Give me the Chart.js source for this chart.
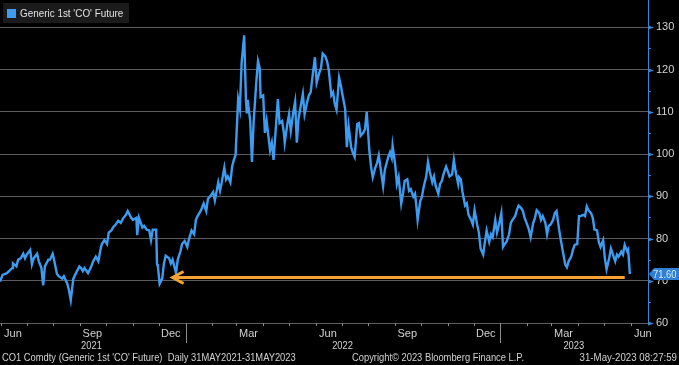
<!DOCTYPE html>
<html>
<head>
<meta charset="utf-8">
<script src="https://cdn.jsdelivr.net/npm/chart.js@4.4.1/dist/chart.umd.min.js"></script>
<style>
  html, body { margin: 0; padding: 0; background: #000; }
  #wrap { width: 679px; height: 365px; }
</style>
</head>
<body>
<div id="wrap"><canvas id="brent" width="679" height="365"></canvas></div>
<script>
// days since 31-May-2021
const days = [0,3,8,14,15,19,21,24,27,29,31,35,37,39,43,45,48,50,52,56,58,61,63,66,68,72,74,78,80,82,85,88,92,94,96,98,102,105,108,111,114,116,118,121,124,126,129,131,134,137,140,143,146,148,
  152,154,158,159,161,165,167,170,173,175,177,181,182,183,185,188,190,192,196,198,200,204,206,209,211,214,217,219,222,225,227,229,233,236,239,241,244,247,249,253,255,257,260,262,264,267,269,271,273,276,278,280,283,285,286,287,290,292,294,297,
  299,301,302,305,307,309,311,313,315,317,320,322,324,327,329,330,333,335,337,340,342,344,346,349,351,353,356,358,360,363,365,367,370,372,374,377,379,381,384,386,388,390,393,395,397,400,402,404,407,409,411,414,416,418,421,423,425,428,430,432,435,437,439,441,444,
  446,450,452,454,455,458,460,462,465,467,469,472,474,476,479,481,483,484,487,489,491,494,496,498,501,503,505,508,510,512,514,517,519,521,524,526,528,531,532,534,536,539,541,543,546,548,550,553,555,557,560,562,564,567,569,571,574,576,578,581,583,585,587,590,592,594,
  597,599,601,604,606,608,611,613,615,618,620,622,625,627,629,632,634,636,638,641,643,645,648,650,652,655,657,659,662,664,666,669,671,673,676,678,680,682,685,687,689,692,694,696,699,701,703,706,708,710,713,715,717,720,722,724,727,728,730];

const prices = [69.8,71.4,71.8,73.0,74.1,73.4,75.0,75.3,76.4,75.3,76.2,77.3,73.9,75.3,76.4,74.6,73.0,68.9,73.4,75.0,75.0,76.4,74.6,71.6,71.1,70.5,71.1,69.3,67.7,65.4,70.5,71.8,73.4,73.0,72.3,73.0,71.8,73.0,74.6,75.7,74.6,76.9,78.7,79.6,78.7,81.4,81.9,82.6,83.3,84.2,83.7,84.9,85.6,86.5,
  84.9,84.4,84.9,80.8,84.9,82.6,83.0,82.1,81.9,79.6,82.1,82.1,73.9,73.4,69.3,70.5,74.1,75.9,75.3,74.1,75.0,71.8,75.0,76.9,78.7,79.4,78.0,79.8,81.9,81.0,84.4,85.3,86.7,88.3,86.5,89.4,90.1,91.0,89.0,93.3,91.3,93.3,96.8,94.0,94.7,93.3,97.0,98.6,99.7,113.0,110.7,121.5,128.1,113.0,109.6,112.8,107.8,98.1,107.8,116.9,
  122.0,120.3,113.5,113.9,105.0,107.8,104.3,100.9,102.7,98.6,107.1,113.0,107.3,107.8,105.0,102.7,107.1,109.4,105.5,110.0,112.3,102.7,108.4,111.9,114.2,109.4,112.3,113.9,114.6,119.7,122.9,116.9,119.2,120.3,123.8,123.1,122.0,119.9,113.9,114.6,111.9,110.5,118.0,116.2,113.9,110.7,101.6,106.6,101.6,100.2,99.3,107.1,107.3,104.3,105.0,105.9,110.0,100.9,97.0,94.5,96.8,97.9,99.7,96.8,92.4,
  96.3,99.3,100.4,99.1,102.0,97.5,92.9,94.5,88.3,90.6,93.6,94.0,91.3,91.7,89.9,90.6,86.7,84.4,88.8,89.9,92.2,94.7,98.1,95.9,93.3,94.7,92.4,90.6,92.9,93.6,95.2,97.0,95.9,94.7,95.2,98.6,95.9,92.9,94.5,94.0,91.0,87.8,88.3,85.6,84.4,83.3,86.7,83.3,81.4,77.6,76.2,79.2,81.9,79.2,81.0,80.3,84.4,81.4,83.0,86.0,78.0,78.7,79.2,81.0,83.7,84.4,
  85.3,86.7,87.8,87.2,86.5,84.9,83.3,82.1,80.3,83.7,84.9,86.7,86.0,84.4,85.3,83.7,81.0,83.0,83.3,84.4,86.0,86.5,82.1,79.6,77.3,73.9,73.2,74.6,75.7,77.3,78.5,78.7,85.3,85.3,85.6,85.3,87.6,86.7,86.0,84.9,82.1,81.9,79.2,78.0,79.6,75.3,72.7,75.3,77.6,76.4,74.6,76.2,75.7,76.9,76.2,78.5,76.9,77.3,71.6];

const monthLabels = ['Jun', 'Sep', 'Dec', 'Mar', 'Jun', 'Sep', 'Dec', 'Mar', 'Jun'];
const monthLabelDates = ['2021-06-15', '2021-09-15', '2021-12-15', '2022-03-15', '2022-06-15', '2022-09-15', '2022-12-15', '2023-03-15', '2023-06-15'];
const yearLabels = ['2021', '2022', '2023'];
const yearLabelDates = ['2021-09-14', '2022-07-02', '2023-03-27'];
const yearBreaks = ['2022-01-01', '2023-01-01'];
const yTicks = [60, 65, 70, 75, 80, 85, 90, 95, 100, 105, 110, 115, 120, 125, 130];

const lastValue = 71.60;
const arrowLevel = 70.9;
const arrowFrom = '2021-12-17';
const arrowTo = '2023-05-25';

const seriesName = "Generic 1st 'CO' Future";
const footLeft = "CO1 Comdty (Generic 1st 'CO' Future)  Daily 31MAY2021-31MAY2023";
const footMid = 'Copyright\u00A9 2023 Bloomberg Finance L.P.';
const footRight = '31-May-2023 08:27:59';

const BLUE = '#3d9cf0';
const TEXT = '#d2d2d2';
const FONT = '"Liberation Sans", Arial, sans-serif';

const START = Date.UTC(2021, 4, 31);
function dayOf(s) {
    const p = s.split('-').map(Number);
    return (Date.UTC(p[0], p[1] - 1, p[2]) - START) / 86400000;
}

// bloomberg's font is narrow, squeeze the text a bit
function narrowText(c, text, x, y, align, squeeze) {
    c.save();
    c.translate(x, y);
    c.scale(squeeze, 1);
    c.textAlign = align;
    c.fillText(text, 0, 0);
    c.restore();
}

const points = days.map((d, i) => ({ x: d, y: prices[i] }));

const extras = {
    id: 'bbgExtras',
    beforeDraw(chart) {
        const c = chart.ctx;
        c.save();
        c.fillStyle = '#000';
        c.fillRect(0, 0, chart.width, chart.height);
        c.restore();
    },
    afterDraw(chart) {
        const c = chart.ctx;
        const xs = chart.scales.x;
        const ys = chart.scales.y;
        const area = chart.chartArea;
        c.save();

        // orange arrow
        const ay = Math.round(ys.getPixelForValue(arrowLevel)) + 0.5;
        const ax1 = xs.getPixelForValue(dayOf(arrowFrom));
        const ax2 = xs.getPixelForValue(dayOf(arrowTo));
        c.strokeStyle = '#f5a133';
        c.lineWidth = 3;
        c.beginPath();
        c.moveTo(ax1 + 1, ay);
        c.lineTo(ax2, ay);
        c.stroke();
        c.beginPath();
        c.moveTo(ax1 + 11, ay - 6);
        c.lineTo(ax1, ay);
        c.lineTo(ax1 + 11, ay + 6);
        c.stroke();

        // right axis line and tick marks
        c.strokeStyle = '#3a86d8';
        c.lineWidth = 1;
        c.beginPath();
        c.moveTo(area.right + 0.5, 0);
        c.lineTo(area.right + 0.5, area.bottom + 1);
        c.stroke();
        c.fillStyle = '#3a86d8';
        yTicks.forEach(v => {
            const py = Math.round(ys.getPixelForValue(v)) + 0.5;
            c.beginPath();
            if (v % 10 === 0) {
                c.moveTo(area.right, py - 2);
                c.lineTo(area.right + 6, py);
                c.lineTo(area.right, py + 2);
                c.fill();
            } else {
                c.moveTo(area.right, py);
                c.lineTo(area.right + 3, py);
                c.stroke();
            }
        });

        // last value tag
        const ly = ys.getPixelForValue(lastValue);
        c.fillStyle = '#2f7fd6';
        c.beginPath();
        c.moveTo(area.right + 1, ly);
        c.lineTo(area.right + 6, ly - 6);
        c.lineTo(chart.width, ly - 6);
        c.lineTo(chart.width, ly + 6);
        c.lineTo(area.right + 6, ly + 6);
        c.closePath();
        c.fill();
        c.fillStyle = '#d8ecff';
        c.font = '11px ' + FONT;
        c.textBaseline = 'middle';
        narrowText(c, lastValue.toFixed(2), area.right + 5, ly + 0.5, 'left', 0.85);

        // month boundary ticks along the bottom
        c.strokeStyle = '#8a8a8a';
        c.lineWidth = 1;
        for (let y = 2021, m = 6; ; m++) {
            if (m > 12) { m = 1; y++; }
            const px = Math.round(xs.getPixelForValue((Date.UTC(y, m - 1, 1) - START) / 86400000)) + 0.5;
            c.beginPath();
            c.moveTo(px, area.bottom);
            c.lineTo(px, area.bottom + 3);
            c.stroke();
            if (y === 2023 && m === 6) break;
        }
        yearBreaks.forEach(d => {
            const px = Math.round(xs.getPixelForValue(dayOf(d))) + 0.5;
            c.beginPath();
            c.moveTo(px, area.bottom);
            c.lineTo(px, area.bottom + 20);
            c.stroke();
        });

        // year labels
        c.fillStyle = TEXT;
        c.font = '11px ' + FONT;
        c.textBaseline = 'middle';
        yearLabels.forEach((t, i) => {
            narrowText(c, t, xs.getPixelForValue(dayOf(yearLabelDates[i])), 346, 'center', 0.85);
        });

        // footer
        narrowText(c, footLeft, 2, 358, 'left', 0.85);
        narrowText(c, footMid, 352, 358, 'left', 0.85);
        narrowText(c, footRight, 677, 358, 'right', 0.88);

        // legend box
        c.fillStyle = '#1b1b1b';
        c.fillRect(3, 3, 126, 20);
        c.fillStyle = BLUE;
        c.fillRect(7, 9, 9, 9);
        c.fillStyle = '#e2e2e2';
        c.font = '11px ' + FONT;
        narrowText(c, seriesName, 20, 14, 'left', 0.9);

        c.restore();
    }
};

new Chart(document.getElementById('brent'), {
    type: 'line',
    data: {
        datasets: [{
            label: seriesName,
            data: points,
            borderColor: BLUE,
            borderWidth: 2.4,
            pointRadius: 0,
            tension: 0,
            fill: false
        }]
    },
    options: {
        responsive: false,
        animation: false,
        layout: { padding: { top: 4, left: 0, right: 0, bottom: 0 } },
        plugins: {
            legend: { display: false },
            tooltip: { enabled: false }
        },
        scales: {
            x: {
                type: 'linear',
                min: 0,
                max: 751,
                afterBuildTicks: scale => {
                    scale.ticks = monthLabelDates.map(d => ({ value: dayOf(d) }));
                },
                afterFit: scale => { scale.height = 42; },
                ticks: {
                    autoSkip: false,
                    maxRotation: 0,
                    padding: 4,
                    color: TEXT,
                    font: { family: FONT, size: 11 },
                    callback: (v, i) => monthLabels[i]
                },
                grid: { display: false, drawTicks: false },
                border: { display: false }
            },
            y: {
                position: 'right',
                min: 60,
                max: 133,
                afterBuildTicks: scale => {
                    scale.ticks = yTicks.map(v => ({ value: v }));
                },
                afterFit: scale => { scale.width = 31; },
                ticks: {
                    padding: 8,
                    color: TEXT,
                    font: { family: FONT, size: 11 },
                    callback: v => (v % 10 === 0 ? String(v) : '')
                },
                grid: {
                    drawTicks: false,
                    color: ctx => (ctx.tick && ctx.tick.value % 10 === 0 ? '#5c5c5c' : 'rgba(0,0,0,0)')
                },
                border: { display: false }
            }
        }
    },
    plugins: [extras]
});
</script>
</body>
</html>
